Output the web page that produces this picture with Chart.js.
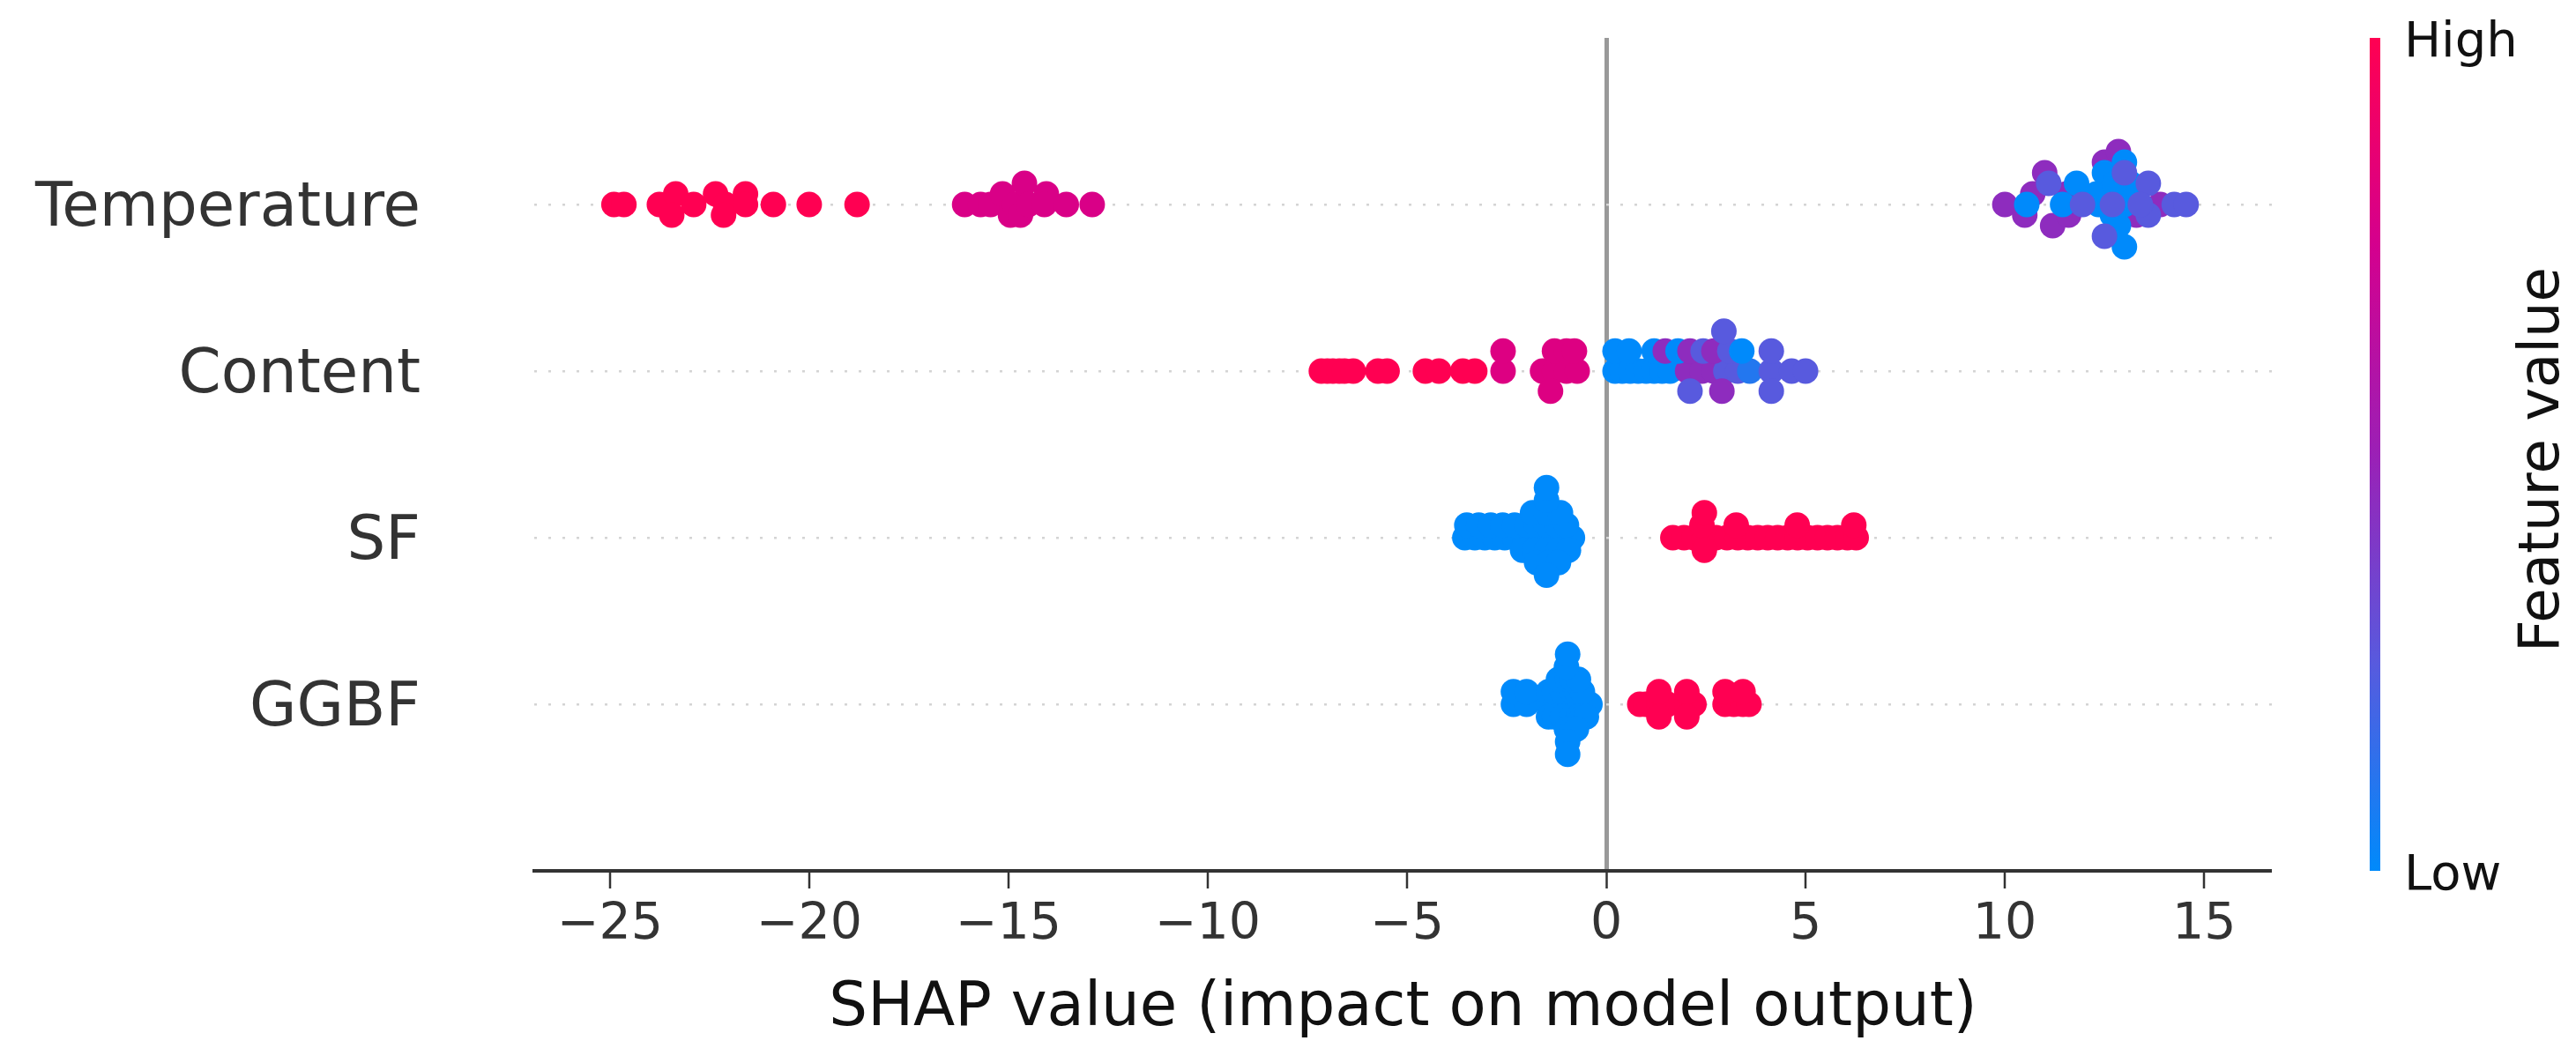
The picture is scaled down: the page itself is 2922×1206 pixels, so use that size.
<!DOCTYPE html>
<html>
<head>
<meta charset="utf-8">
<script src="https://cdn.jsdelivr.net/npm/chart.js@4.4.1/dist/chart.umd.min.js"></script>
<style>
  html, body { margin: 0; padding: 0; background: #fff; }
</style>
</head>
<body>
<canvas id="shapChart" width="2922" height="1206"></canvas>
<script>
const features = ['Temperature', 'Content', 'SF', 'GGBF'];
const xTicks = [-25, -20, -15, -10, -5, 0, 5, 10, 15];

// each point: [shap value, swarm level (up +), feature value 0 = low .. 1 = high]
const temperaturePoints = [
  [-24.9, 0, 1], [-24.65, 0, 1], [-23.76, 0, 1], [-23.35, 1, 1], [-23.45, -1, 1], [-22.9, 0, 1],
  [-22.35, 1, 1], [-22.1, 0, 1], [-22.15, -1, 1], [-21.6, 1, 1], [-21.6, 0, 1], [-20.9, 0, 1],
  [-20.0, 0, 1], [-18.8, 0, 1],
  [-16.1, 0, 0.78], [-15.7, 0, 0.78], [-15.45, 0, 0.78], [-15.15, 1, 0.78], [-14.95, -1, 0.78],
  [-14.85, 0, 0.78], [-14.7, -1, 0.78], [-14.6, 2, 0.78], [-14.5, 0, 0.78], [-14.05, 1, 0.78],
  [-14.1, 0, 0.78], [-13.55, 0, 0.78], [-12.9, 0, 0.78],
  [10.0, 0, 0.45], [11.0, 3, 0.45], [10.7, 1, 0.45], [10.5, -1, 0.45], [11.2, -2, 0.45],
  [11.6, -1, 0.45], [11.55, 1, 0.45], [12.5, 4, 0.45], [12.85, 5, 0.45], [13.3, -1, 0.45], [13.9, 0, 0.45],
  [10.55, 0, 0], [11.8, 2, 0], [11.45, 0, 0], [12.35, 0, 0], [12.5, 3, 0], [13.0, 4, 0], [13.0, 0, 0],
  [12.85, -2, 0], [13.0, -4, 0], [13.15, 2, 0], [12.3, 1, 0], [12.7, -1, 0], [12.75, 2, 0],
  [11.1, 2, 0.25], [11.95, 0, 0.25], [12.7, 0, 0.25], [13.0, 3, 0.25], [12.5, -3, 0.25],
  [13.6, 2, 0.25], [13.6, -1, 0.25], [13.4, 0, 0.25], [14.25, 0, 0.25], [14.55, 0, 0.25]
];
const contentPoints = [
  [-7.15, 0, 1], [-7.0, 0, 1], [-6.86, 0, 1], [-6.7, 0, 1], [-6.57, 0, 1], [-6.35, 0, 1],
  [-5.73, 0, 1], [-5.5, 0, 1], [-4.54, 0, 1], [-4.2, 0, 1], [-3.6, 0, 1], [-3.3, 0, 1],
  [-2.59, 0, 0.8], [-2.59, 1, 0.8], [-1.6, 0, 0.8], [-1.3, 0, 0.8], [-1.0, 0, 0.8], [-0.73, 0, 0.8],
  [-1.3, 1, 0.8], [-1.0, 1, 0.8], [-0.8, 1, 0.8], [-1.4, -1, 0.8],
  [0.22, 0, 0], [0.4, 0, 0], [0.6, 0, 0], [0.8, 0, 0], [1.0, 0, 0], [1.2, 0, 0], [1.4, 0, 0], [1.6, 0, 0],
  [2.04, 0, 0.45], [2.4, 0, 0.45], [2.7, 0, 0.45], [3.0, 0, 0.25], [3.3, 0, 0.25], [3.6, 0, 0.1],
  [4.14, 0, 0.25], [4.65, 0, 0.25], [5.0, 0, 0.25],
  [0.22, 1, 0], [0.57, 1, 0], [1.2, 1, 0], [1.48, 1, 0.45], [1.8, 1, 0], [2.1, 1, 0.45],
  [2.43, 1, 0.25], [2.7, 1, 0.45], [3.1, 1, 0.25], [3.4, 1, 0], [4.14, 1, 0.25],
  [2.95, 2, 0.25],
  [2.1, -1, 0.25], [2.9, -1, 0.45], [4.14, -1, 0.25]
];
const sfPoints = [
  [-3.55, 0, 0], [-3.3, 0, 0], [-3.05, 0, 0], [-2.8, 0, 0], [-2.55, 0, 0], [-2.3, 0, 0], [-2.05, 0, 0],
  [-1.85, 0, 0], [-1.65, 0, 0], [-1.45, 0, 0], [-1.25, 0, 0], [-1.05, 0, 0], [-0.85, 0, 0],
  [-3.5, 1, 0], [-3.2, 1, 0], [-2.9, 1, 0], [-2.6, 1, 0], [-2.3, 1, 0], [-2.0, 1, 0], [-1.75, 1, 0],
  [-1.5, 1, 0], [-1.25, 1, 0], [-1.0, 1, 0],
  [-1.85, 2, 0], [-1.5, 2, 0], [-1.15, 2, 0], [-1.5, 3, 0], [-1.5, 4, 0],
  [-2.1, -1, 0], [-1.8, -1, 0], [-1.5, -1, 0], [-1.2, -1, 0], [-0.95, -1, 0],
  [-1.75, -2, 0], [-1.45, -2, 0], [-1.2, -2, 0], [-1.5, -3, 0],
  [1.67, 0, 1], [1.95, 0, 1], [2.2, 0, 1], [2.46, 0, 1], [2.75, 0, 1], [3.03, 0, 1], [3.3, 0, 1],
  [3.55, 0, 1], [3.8, 0, 1], [4.05, 0, 1], [4.3, 0, 1], [4.55, 0, 1], [4.8, 0, 1], [5.05, 0, 1],
  [5.3, 0, 1], [5.55, 0, 1], [5.8, 0, 1], [6.05, 0, 1], [6.27, 0, 1],
  [2.4, 1, 1], [3.26, 1, 1], [4.79, 1, 1], [6.21, 1, 1], [2.46, 2, 1], [2.46, -1, 1]
];
const ggbfPoints = [
  [-2.33, 0, 0], [-2.0, 0, 0], [-1.45, 0, 0], [-1.22, 0, 0], [-1.1, 0, 0], [-0.97, 0, 0], [-0.85, 0, 0],
  [-0.78, 0, 0], [-0.65, 0, 0], [-0.56, 0, 0], [-0.41, 0, 0],
  [-2.33, 1, 0], [-2.0, 1, 0], [-1.45, 1, 0], [-1.3, 1, 0], [-1.1, 1, 0], [-0.85, 1, 0], [-0.75, 1, 0], [-0.6, 1, 0],
  [-1.2, 2, 0], [-0.97, 2, 0], [-0.85, 2, 0], [-0.7, 2, 0], [-1.0, 3, 0], [-0.97, 4, 0],
  [-1.45, -1, 0], [-1.3, -1, 0], [-1.1, -1, 0], [-0.85, -1, 0], [-0.7, -1, 0], [-0.6, -1, 0], [-0.5, -1, 0],
  [-1.0, -2, 0], [-0.85, -2, 0], [-0.75, -2, 0], [-0.97, -3, 0], [-0.97, -4, 0],
  [0.84, 0, 1], [0.99, 0, 1], [1.32, 0, 1], [1.54, 0, 1], [2.02, 0, 1], [2.2, 0, 1], [2.98, 0, 1],
  [3.2, 0, 1], [3.43, 0, 1], [3.58, 0, 1],
  [1.32, 1, 1], [2.02, 1, 1], [2.98, 1, 1], [3.43, 1, 1], [1.32, -1, 1], [2.02, -1, 1]
];

const rowPoints = [temperaturePoints, contentPoints, sfPoints, ggbfPoints];
const swarmStep = [0.0635, 0.12, 0.075, 0.075];

// shap red_blue colormap, low -> high
const stopAt = [0, 0.25, 0.5, 0.75, 1];
const stopRgb = [[0, 138, 251], [88, 90, 222], [155, 32, 182], [212, 0, 142], [255, 0, 82]];

function featureColor(t) {
  let i = 0;
  while (i < stopAt.length - 2 && t > stopAt[i + 1]) i++;
  const f = (t - stopAt[i]) / (stopAt[i + 1] - stopAt[i]);
  const a = stopRgb[i], b = stopRgb[i + 1];
  const c = a.map((v, k) => Math.round(v + (b[k] - v) * f));
  return 'rgb(' + c.join(',') + ')';
}

const datasets = rowPoints.map((pts, row) => ({
  label: features[row],
  data: pts.map(p => ({ x: p[0], y: row - p[1] * swarmStep[row] })),
  pointBackgroundColor: pts.map(p => featureColor(p[2])),
  pointBorderWidth: 0,
  pointRadius: 14.5,
  pointHoverRadius: 14.5
}));

const font = 'DejaVu Sans';

const colorBar = {
  id: 'colorBar',
  afterDraw(chart) {
    const { ctx, chartArea } = chart;
    const x = chartArea.right + 111;
    const g = ctx.createLinearGradient(0, chartArea.bottom, 0, chartArea.top);
    stopAt.forEach((t, i) => g.addColorStop(t, 'rgb(' + stopRgb[i].join(',') + ')'));
    ctx.save();
    ctx.fillStyle = g;
    ctx.fillRect(x, chartArea.top, 12, chartArea.bottom - chartArea.top);

    ctx.fillStyle = '#111';
    ctx.font = '56px "' + font + '"';
    ctx.textAlign = 'left';
    ctx.textBaseline = 'middle';
    ctx.fillText('High', chartArea.right + 150, chartArea.top + 6);
    ctx.fillText('Low', chartArea.right + 150, chartArea.bottom + 6);

    ctx.translate(chartArea.right + 308, (chartArea.top + chartArea.bottom) / 2 + 6);
    ctx.rotate(-Math.PI / 2);
    ctx.textAlign = 'center';
    ctx.font = '64px "' + font + '"';
    ctx.fillText('Feature value', 0, 0);
    ctx.restore();
  }
};

new Chart(document.getElementById('shapChart'), {
  type: 'scatter',
  data: { datasets: datasets },
  plugins: [colorBar],
  options: {
    responsive: false,
    devicePixelRatio: 1,
    animation: false,
    layout: { padding: { top: 43, right: 345, left: 0, bottom: 0 } },
    plugins: { legend: { display: false }, tooltip: { enabled: false } },
    scales: {
      x: {
        type: 'linear',
        min: -26.9,
        max: 16.7,
        afterBuildTicks: s => { s.ticks = xTicks.map(v => ({ value: v })); },
        afterFit: s => { s.height = 218; },
        border: { display: true, color: '#333', width: 4 },
        grid: {
          color: c => (c.tick && c.tick.value === 0 ? '#999' : 'rgba(0,0,0,0)'),
          lineWidth: c => (c.tick && c.tick.value === 0 ? 5 : 0),
          drawTicks: true,
          tickLength: 20,
          tickColor: '#333',
          tickWidth: 2.5
        },
        ticks: {
          font: { family: font, size: 57 },
          color: '#333',
          padding: 8,
          maxRotation: 0,
          autoSkip: false,
          callback: v => (v < 0 ? '\u2212' + Math.abs(v) : String(v))
        },
        title: {
          display: true,
          text: 'SHAP value (impact on model output)',
          font: { family: font, size: 69 },
          color: '#111',
          padding: { top: 10, bottom: 20 }
        }
      },
      y: {
        type: 'linear',
        min: -1,
        max: 4,
        reverse: true,
        afterBuildTicks: s => { s.ticks = features.map((f, i) => ({ value: i })); },
        afterFit: s => { s.width = 606; },
        border: { display: false, dash: [3, 13] },
        grid: {
          color: '#d4d4d4',
          lineWidth: 2.5,
          drawTicks: true,
          tickLength: 129,
          tickColor: 'rgba(0,0,0,0)',
          tickWidth: 0
        },
        ticks: {
          font: { family: font, size: 69 },
          color: '#333',
          padding: 0,
          labelOffset: 6,
          autoSkip: false,
          callback: v => features[v] || ''
        }
      }
    }
  }
});
</script>
</body>
</html>
